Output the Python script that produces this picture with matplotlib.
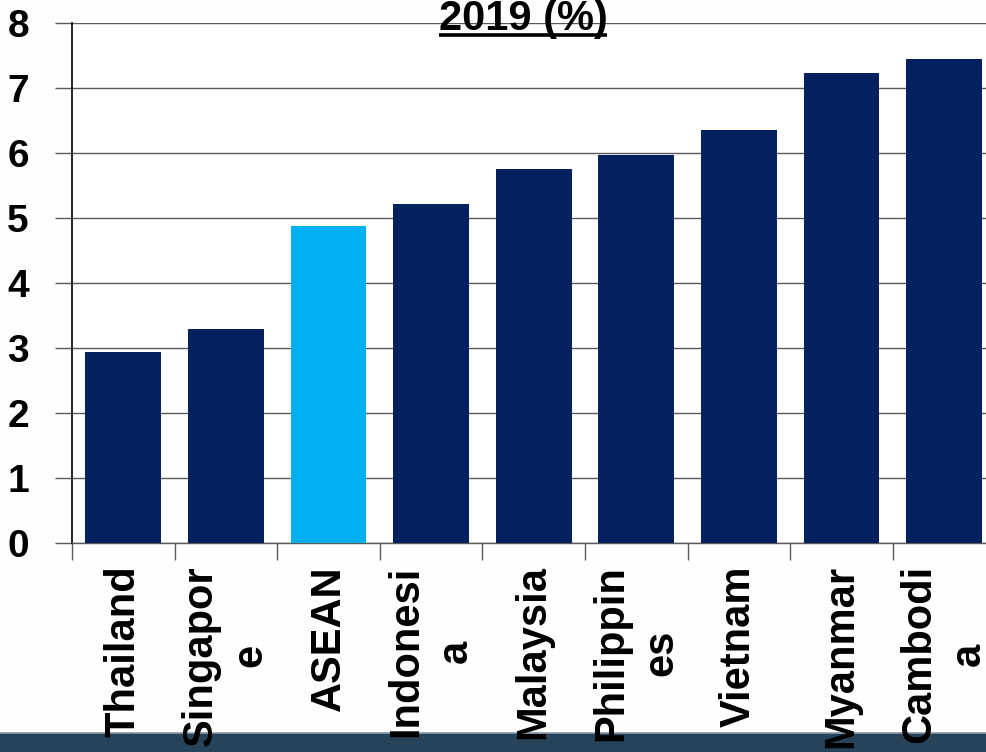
import matplotlib
matplotlib.use("Agg")
import matplotlib.pyplot as plt
from matplotlib.patches import Rectangle
from matplotlib.lines import Line2D

# Data
countries = ["Thailand", "Singapor\ne", "ASEAN", "Indonesi\na", "Malaysia",
             "Philippin\nes", "Vietnam", "Myanmar", "Cambodi\na"]
values = [2.94, 3.30, 4.88, 5.21, 5.76, 5.97, 6.35, 7.23, 7.45]
highlight = "ASEAN"
yticks = [0, 1, 2, 3, 4, 5, 6, 7, 8]
title = "2019 (%)"

navy = "#03215f"
sky = "#00b0f0"
grid_grey = "#5a5a5a"

plt.rcParams["font.family"] = ["Liberation Sans", "DejaVu Sans"]
plt.rcParams["font.weight"] = "bold"

fig = plt.figure(figsize=(9.86, 7.52), dpi=100)
fig.patch.set_facecolor("#fefefc")

# footer band along the bottom edge
fig.add_artist(Rectangle((0, 0), 1, 19 / 752, transform=fig.transFigure,
                         facecolor="#27435a", edgecolor="none", zorder=-2))
fig.add_artist(Line2D([0, 1], [19 / 752, 19 / 752], transform=fig.transFigure,
                      color="#8a9aa8", lw=1.2, zorder=-1))

ax = fig.add_axes([72 / 986, 209 / 752, 923.4 / 986, 520 / 752])
ax.set_facecolor("white")

x = list(range(len(countries)))
colors = [sky if c == highlight else navy for c in countries]
ax.bar(x, values, width=0.74, color=colors, edgecolor="none", zorder=3)

ax.set_xlim(-0.5, len(countries) - 0.5)
ax.set_ylim(0, 8)
ax.set_yticks(yticks)
ax.set_yticklabels([str(t) for t in yticks], fontsize=28, fontweight="bold")

ax.set_xticks([i - 0.5 for i in range(len(countries) + 1)], minor=False)
ax.set_xticklabels([])
ax.set_xticks(x, minor=True)
ax.set_xticklabels(countries, minor=True, rotation=90, fontsize=30,
                   fontweight="bold", ha="center", va="top",
                   multialignment="center", linespacing=1.3)
ax.tick_params(axis="x", which="minor", length=0, pad=16)
ax.tick_params(axis="x", which="major", length=12, width=1, color=grid_grey,
               direction="out")
ax.tick_params(axis="y", length=12, width=1, color=grid_grey, pad=19,
               direction="out")

ax.yaxis.grid(True, color=grid_grey, lw=1)
ax.set_axisbelow(True)
for s in ["top", "right"]:
    ax.spines[s].set_visible(False)
ax.spines["left"].set_color("black")
ax.spines["left"].set_linewidth(1.2)
ax.spines["bottom"].set_color(grid_grey)
ax.spines["bottom"].set_linewidth(1)

# underlined title
t = fig.text(523 / 986, 1 - 30 / 752, title, ha="center", va="baseline",
             fontsize=30, fontweight="bold", color="black")
fig.canvas.draw()
bb = t.get_window_extent()
inv = fig.transFigure.inverted()
(x0, _), (x1, _) = inv.transform([(bb.x0, 0), (bb.x1, 0)])
uy = 1 - 34.5 / 752
fig.add_artist(Line2D([x0, x1], [uy, uy], transform=fig.transFigure,
                      color="black", lw=2.6, solid_capstyle="butt"))

fig.savefig("out.png", dpi=100, facecolor=fig.get_facecolor())
